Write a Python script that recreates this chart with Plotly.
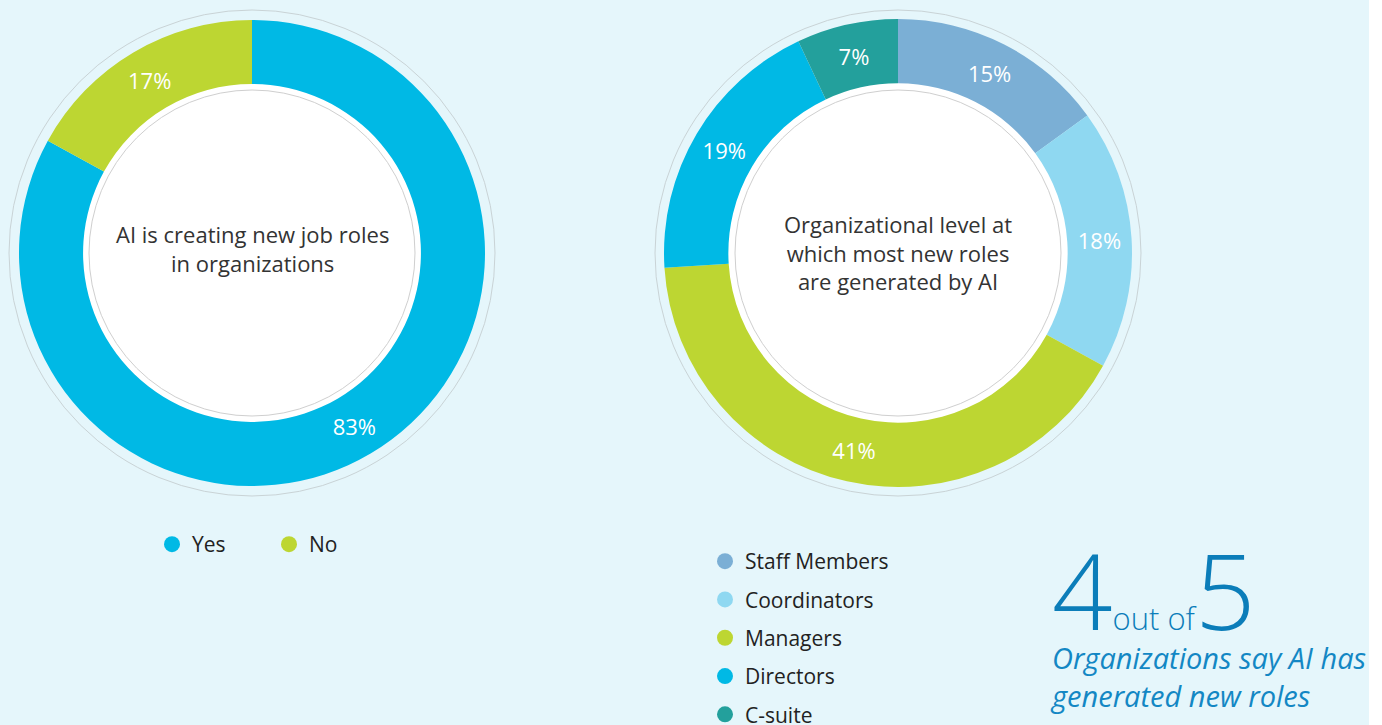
import plotly.graph_objects as go

W, H = 1382, 725

# data
roles_labels = ["Yes", "No"]
roles_values = [83, 17]
roles_colors = ["#00b9e5", "#bdd632"]

level_labels = ["Staff Members", "Coordinators", "Managers", "Directors", "C-suite"]
level_values = [15, 18, 41, 19, 7]
level_colors = ["#7bafd5", "#8fd8f1", "#bdd632", "#00b9e5", "#23a09c"]

BG = "#e5f6fb"
FONT = "Open Sans"


def px(x):
    return x / W


def py(y):
    return 1 - y / H


def circle(cx, cy, r, **kw):
    return dict(type="circle", xref="paper", yref="paper",
                x0=px(cx - r), x1=px(cx + r), y0=py(cy + r), y1=py(cy - r), **kw)


fig = go.Figure()

donuts = [
    (roles_labels, roles_values, roles_colors, 252, 253, 233),
    (level_labels, level_values, level_colors, 898, 253, 234),
]

for labels, values, colors, cx, cy, r in donuts:
    fig.add_trace(go.Pie(
        labels=labels, values=values,
        marker=dict(colors=colors, line=dict(width=0)),
        hole=0.725, sort=False, direction="clockwise", rotation=0,
        texttemplate="%{percent:.0%}", textposition="inside",
        insidetextorientation="horizontal",
        textfont=dict(family=FONT, size=22, color="white"),
        domain=dict(x=[px(cx - r), px(cx + r)], y=[py(cy + r), py(cy - r)]),
        showlegend=False, hoverinfo="label+percent",
    ))

# legend entries with round markers
for lab, col in zip(roles_labels, roles_colors):
    fig.add_trace(go.Scatter(x=[None], y=[None], mode="markers", name=lab,
                             marker=dict(color=col, size=16), legend="legend"))
for lab, col in zip(level_labels, level_colors):
    fig.add_trace(go.Scatter(x=[None], y=[None], mode="markers", name=lab,
                             marker=dict(color=col, size=16), legend="legend2",
                             legendgroup=lab))

shapes = [
    dict(type="rect", xref="paper", yref="paper", x0=0, x1=px(1369), y0=0, y1=1,
         fillcolor=BG, line=dict(width=0), layer="below"),
]
for cx, cy in [(252, 253), (898, 253)]:
    shapes.append(circle(cx, cy, 243, line=dict(color="#c9d3d6", width=1), layer="below"))
    shapes.append(circle(cx, cy, 172, fillcolor="white", line=dict(width=0), layer="below"))
    shapes.append(circle(cx, cy, 163, line=dict(color="#cfcfcf", width=1), layer="above"))

annotations = [
    dict(x=px(252), y=py(249), xref="paper", yref="paper", showarrow=False,
         xanchor="center", yanchor="middle",
         text="AI is creating new job roles<br>in organizations",
         font=dict(family=FONT, size=22, color="#333333"), align="center"),
    dict(x=px(898), y=py(252), xref="paper", yref="paper", showarrow=False,
         xanchor="center", yanchor="middle",
         text="Organizational level at<br>which most new roles<br>are generated by AI",
         font=dict(family=FONT, size=22, color="#333333"), align="center"),
    dict(x=px(1050), y=py(663), xref="paper", yref="paper", showarrow=False,
         xanchor="left", yanchor="bottom",
         text="<span style='font-size:106px'>4</span>"
              "<span style='font-size:31px'>out of</span>"
              "<span style='font-size:106px'>5</span>",
         font=dict(family=FONT, size=31, color="#0b7db9", weight=300)),
    dict(x=px(1048), y=py(636), xref="paper", yref="paper", showarrow=False,
         xanchor="left", yanchor="top", align="left",
         text="<i>Organizations say AI has<br>generated new roles</i>",
         font=dict(family=FONT, size=29, color="#1387c4")),
]

fig.update_layout(
    width=W, height=H, margin=dict(l=0, r=0, t=0, b=0, autoexpand=False),
    paper_bgcolor="white", plot_bgcolor="rgba(0,0,0,0)",
    xaxis=dict(visible=False), yaxis=dict(visible=False),
    shapes=shapes, annotations=annotations,
    font=dict(family=FONT, color="#222222"),
    legend=dict(orientation="h", x=px(152), y=py(524), xanchor="left", yanchor="top",
                bgcolor="rgba(0,0,0,0)", font=dict(size=21, color="#222222"),
                entrywidth=72, entrywidthmode="pixels"),
    legend2=dict(orientation="v", x=px(705), y=py(541), xanchor="left", yanchor="top",
                 bgcolor="rgba(0,0,0,0)", font=dict(size=21, color="#222222"),
                 tracegroupgap=8),
)

fig.write_html("out.html", config={"displayModeBar": False},
               post_script="document.body.style.margin='0';")
